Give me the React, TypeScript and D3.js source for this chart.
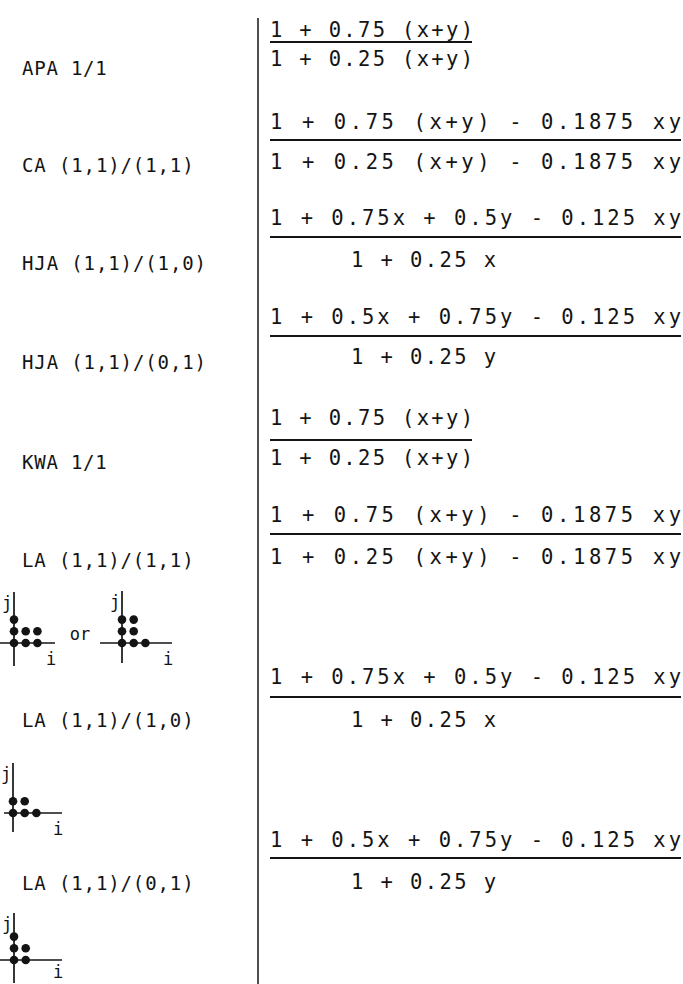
import React, { useRef, useEffect } from 'react';
import * as d3 from 'd3';

// table content
const labels = [
  'APA 1/1',
  'CA (1,1)/(1,1)',
  'HJA (1,1)/(1,0)',
  'HJA (1,1)/(0,1)',
  'KWA 1/1',
  'LA (1,1)/(1,1)',
  'LA (1,1)/(1,0)',
  'LA (1,1)/(0,1)',
];
const numerators = [
  '1 + 0.75 (x+y)',
  '1 + 0.75 (x+y) - 0.1875 xy',
  '1 + 0.75x + 0.5y - 0.125 xy',
  '1 + 0.5x + 0.75y - 0.125 xy',
  '1 + 0.75 (x+y)',
  '1 + 0.75 (x+y) - 0.1875 xy',
  '1 + 0.75x + 0.5y - 0.125 xy',
  '1 + 0.5x + 0.75y - 0.125 xy',
];
const denominators = [
  '1 + 0.25 (x+y)',
  '1 + 0.25 (x+y) - 0.1875 xy',
  '1 + 0.25 x',
  '1 + 0.25 y',
  '1 + 0.25 (x+y)',
  '1 + 0.25 (x+y) - 0.1875 xy',
  '1 + 0.25 x',
  '1 + 0.25 y',
];
// stencil points (i, j)
const stencilA = [[0, 0], [0, 1], [0, 2], [1, 0], [2, 0], [1, 1], [2, 1]];
const stencilB = [[0, 0], [1, 0], [2, 0], [0, 1], [1, 1], [0, 2], [1, 2]];
const stencilC = [[0, 0], [1, 0], [2, 0], [0, 1], [1, 1]];
const stencilD = [[0, 0], [0, 1], [0, 2], [1, 0], [1, 1]];

// layout
const width = 683;
const height = 984;
const divX = 258;
const labelX = 22;
const formulaX = 270;
const formulaEnd = 681;
const indentX = 351;
const labelY = [68, 165, 263, 362, 462, 560, 720, 883];
const numY = [30, 122, 218, 317, 418, 515, 677, 840];
const barY = [42, 140, 237, 336, 440, 534, 697, 858];
const denY = [59, 162, 260, 357, 458, 557, 720, 882];

const App = () => {
  const svgRef = useRef(null);

  useEffect(() => {
    const svg = d3.select(svgRef.current);
    svg.selectAll('*').remove();

    const ink = '#141414';
    const mono = '"DejaVu Sans Mono", "Liberation Mono", monospace';

    // divider
    svg.append('line')
      .attr('x1', divX).attr('x2', divX)
      .attr('y1', 18).attr('y2', height)
      .attr('stroke', ink).attr('stroke-width', 1.5);

    // left labels
    svg.append('g')
      .selectAll('text')
      .data(labels)
      .join('text')
      .attr('x', labelX)
      .attr('y', (d, k) => labelY[k])
      .attr('dominant-baseline', 'central')
      .attr('font-family', mono)
      .attr('font-size', 19)
      .attr('textLength', d => d.length * 12.4 - 2)
      .attr('lengthAdjust', 'spacing')
      .attr('fill', ink)
      .text(d => d);

    const formulaText = (g, s, x, y) => {
      const len = s.length > 20 ? formulaEnd - x : s.length * 14.5;
      return g.append('text')
        .attr('x', x).attr('y', y)
        .attr('dominant-baseline', 'central')
        .attr('font-family', mono)
        .attr('font-size', 20.5)
        .attr('textLength', len)
        .attr('lengthAdjust', 'spacing')
        .attr('fill', ink)
        .text(s);
    };

    const right = svg.append('g');
    numerators.forEach((num, k) => {
      const den = denominators[k];
      const shortDen = den.length < 12;
      formulaText(right, num, formulaX, numY[k]);
      formulaText(right, den, shortDen ? indentX : formulaX, denY[k]);
      const barEnd = num.length > 20 ? formulaEnd : 472;
      right.append('line')
        .attr('x1', formulaX).attr('x2', barEnd)
        .attr('y1', barY[k]).attr('y2', barY[k])
        .attr('stroke', ink).attr('stroke-width', 2.2);
    });

    // stencil diagrams
    const step = 11.7;
    const drawStencil = (pts, ox, oy, ext) => {
      const sx = d3.scaleLinear().domain([0, 1]).range([ox, ox + step]);
      const sy = d3.scaleLinear().domain([0, 1]).range([oy, oy - step]);
      const g = svg.append('g');
      g.append('line')
        .attr('x1', ox).attr('x2', ox)
        .attr('y1', oy - ext.up).attr('y2', oy + ext.down)
        .attr('stroke', ink).attr('stroke-width', 1.7);
      g.append('line')
        .attr('x1', ox - ext.left).attr('x2', ox + ext.right)
        .attr('y1', oy).attr('y2', oy)
        .attr('stroke', ink).attr('stroke-width', 1.7);
      g.selectAll('circle')
        .data(pts)
        .join('circle')
        .attr('cx', d => sx(d[0]))
        .attr('cy', d => sy(d[1]))
        .attr('r', 4.3)
        .attr('fill', ink);
      g.append('text')
        .attr('x', ox - 7).attr('y', oy - ext.up + 11)
        .attr('text-anchor', 'middle')
        .attr('dominant-baseline', 'central')
        .attr('font-family', mono).attr('font-size', 17)
        .attr('fill', ink)
        .text('j');
      g.append('text')
        .attr('x', ox + ext.right - 4).attr('y', oy + ext.iDrop)
        .attr('text-anchor', 'middle')
        .attr('dominant-baseline', 'central')
        .attr('font-family', mono).attr('font-size', 17)
        .attr('fill', ink)
        .text('i');
    };

    drawStencil(stencilA, 14, 643, { up: 51, down: 23, left: 14, right: 41, iDrop: 16 });
    drawStencil(stencilB, 122, 643, { up: 52, down: 20, left: 22, right: 50, iDrop: 16 });
    drawStencil(stencilC, 13, 813, { up: 50, down: 19, left: 9, right: 49, iDrop: 16 });
    drawStencil(stencilD, 14, 960, { up: 47, down: 23, left: 14, right: 48, iDrop: 12 });

    svg.append('text')
      .attr('x', 80).attr('y', 634)
      .attr('text-anchor', 'middle')
      .attr('dominant-baseline', 'central')
      .attr('font-family', mono).attr('font-size', 17)
      .attr('fill', ink)
      .text('or');
  }, []);

  return (
    <svg
      ref={svgRef}
      width={width}
      height={height}
      style={{ position: 'absolute', left: 0, top: 0, background: '#fff' }}
    />
  );
};

export default App;
